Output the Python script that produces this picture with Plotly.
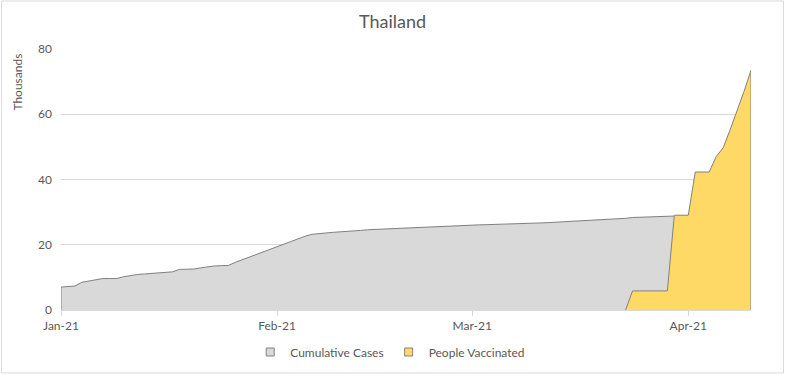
import plotly.graph_objects as go
import pandas as pd

# Data (thousands)
start_date = "2021-01-01"
cases_values = [
    7.0, 7.2, 7.35, 8.5, 8.9, 9.4, 9.65, 9.65, 9.65, 10.2,
    10.6, 10.9, 11.05, 11.2, 11.5, 11.65, 11.7, 12.45, 12.55, 12.55,
    12.9, 13.3, 13.5, 13.6, 13.65, 14.6, 15.4, 16.2, 17.0, 17.9,
    18.6, 19.3, 20.2, 21.0, 21.9, 22.6, 23.2, 23.3, 23.6, 23.8,
    23.9, 24.1, 24.2, 24.4, 24.6, 24.7, 24.8, 24.9, 25.0, 25.1,
    25.2, 25.3, 25.5, 25.6, 25.7, 25.8, 25.9, 26.0, 26.05, 26.1,
    26.1, 26.15, 26.2, 26.2, 26.3, 26.4, 26.45, 26.55, 26.6, 26.7,
    26.8, 26.9, 27.0, 27.1, 27.3, 27.4, 27.6, 27.7, 27.75, 27.8,
    27.95, 28.1, 28.35, 28.45, 28.6, 28.7, 28.7, 28.75, 28.8,
]
vacc_start_date = "2021-03-23"
vacc_values = [
    0.0, 5.85, 5.85, 5.85, 5.85, 5.85, 5.85, 29.05, 29.05, 29.05,
    42.3, 42.3, 42.3, 47.0, 49.7, 55.2, 60.8, 67.0, 73.5,
]
series_names = ["Cumulative Cases", "People Vaccinated"]
series_fills = ["#D9D9D9", "#FFD966"]
tick_dates = ["2021-01-01", "2021-02-01", "2021-03-01", "2021-04-01"]
tick_labels = ["Jan-21", "Feb-21", "Mar-21", "Apr-21"]

cases_dates = list(pd.date_range(start_date, periods=len(cases_values), freq="D"))
vacc_dates = list(pd.date_range(vacc_start_date, periods=len(vacc_values), freq="D"))

# close area outlines with vertical edges (first / last points at zero)
cx = [cases_dates[0]] + cases_dates
cy = [0] + cases_values
vx = vacc_dates + [vacc_dates[-1]]
vy = vacc_values + [0]

FONT = "Lato, 'Liberation Sans', sans-serif"
TXT = "#595959"
EDGE = "#808080"

W, H = 785, 374
L, R, T, B = 60.5, 33.5, 49, 64
PW, PH = W - L - R, H - T - B

fig = go.Figure()
for (xs, ys), name, fc in zip([(cx, cy), (vx, vy)], series_names, series_fills):
    fig.add_trace(go.Scatter(
        x=xs, y=ys, name=name, mode="lines", showlegend=False,
        line=dict(color=EDGE, width=1), fill="tozeroy", fillcolor=fc,
    ))
# legend keys (small squares like the original)
for name, fc in zip(series_names, series_fills):
    fig.add_trace(go.Scatter(
        x=[None], y=[None], name=name, mode="markers",
        marker=dict(symbol="square", size=8, color=fc, line=dict(color=EDGE, width=1)),
    ))

fig.update_layout(
    width=W, height=H,
    margin=dict(l=L, r=R, t=T, b=B, autoexpand=False),
    paper_bgcolor="white", plot_bgcolor="white",
    font=dict(family=FONT, size=12, color=TXT),
    title=dict(text="Thailand", x=0.5, xanchor="center", y=1 - 22 / H, yanchor="middle",
               yref="container", font=dict(size=18, color=TXT, family=FONT)),
    showlegend=True,
    legend=dict(orientation="h", x=(250 - L) / PW, xanchor="left", y=-(352 - 310) / PH, yanchor="middle",
                font=dict(size=12, color=TXT), itemwidth=30, tracegroupgap=0,
                bgcolor="rgba(0,0,0,0)"),
    xaxis=dict(type="date", range=["2021-01-01", "2021-04-10"],
               tickvals=tick_dates, ticktext=tick_labels, automargin=False,
               showgrid=False, showline=True, linecolor="#D9D9D9", linewidth=1,
               ticks="outside", ticklen=5, tickcolor="#D9D9D9",
               tickfont=dict(size=12, color=TXT), zeroline=False),
    yaxis=dict(range=[0, 80], dtick=20, showgrid=True, gridcolor="#D9D9D9", gridwidth=1,
               zeroline=False, showline=False, ticks="", ticklabelstandoff=8, automargin=False,
               tickfont=dict(size=12, color=TXT)),
    annotations=[dict(text="Thousands", textangle=-90, xref="paper", yref="paper",
                      x=(17 - L) / PW, y=(310 - 82) / PH, xanchor="center", yanchor="middle",
                      showarrow=False, font=dict(size=12, color=TXT))],
    shapes=[dict(type="rect", xref="paper", yref="paper",
                 x0=(1 - L) / PW, x1=(784 - L) / PW,
                 y0=-(B - 1) / PH, y1=1 + (T - 1) / PH,
                 line=dict(color="#D9D9D9", width=1), fillcolor="rgba(0,0,0,0)", layer="below")],
)

fig.write_html("out.html")
